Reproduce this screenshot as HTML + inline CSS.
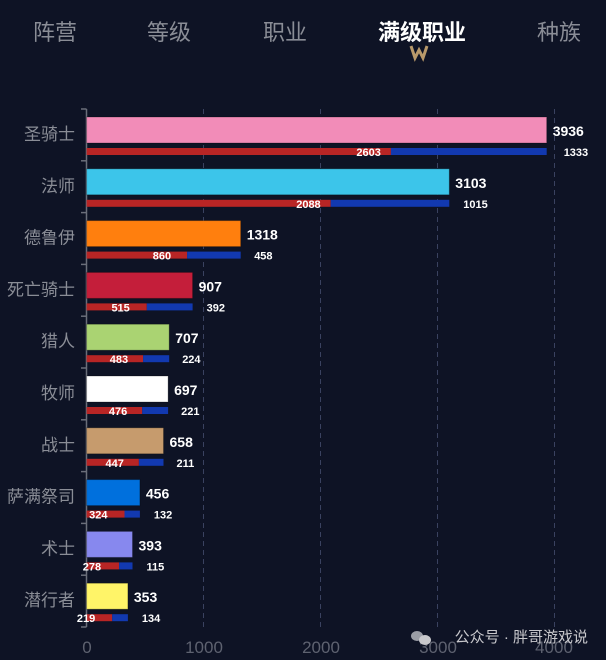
<!DOCTYPE html>
<html><head><meta charset="utf-8"><style>
html,body{margin:0;padding:0;background:#0e1325;}
svg{display:block;font-family:"Liberation Sans","Noto Sans CJK SC",sans-serif;}
</style></head><body>
<svg width="606" height="660" viewBox="0 0 606 660">
<rect width="606" height="660" fill="#0e1325"/>
<g font-size="22" fill="#8a8d96" text-anchor="middle">
<text x="55" y="40">阵营</text>
<text x="169" y="40">等级</text>
<text x="285" y="40">职业</text>
<text x="422" y="40" fill="#ffffff" font-weight="bold">满级职业</text>
<text x="559" y="40">种族</text>
</g>
<path d="M411 46 L415 58 L419 50 L423 58 L427 46" fill="none" stroke="#b8996a" stroke-width="3"/>
<g stroke="#3a4260" stroke-width="1" stroke-dasharray="5,4">
<line x1="203.5" y1="109" x2="203.5" y2="627"/>
<line x1="320.5" y1="109" x2="320.5" y2="627"/>
<line x1="437.5" y1="109" x2="437.5" y2="627"/>
<line x1="554.5" y1="109" x2="554.5" y2="627"/>
</g>
<g stroke="#6a6e7a" stroke-width="1.5">
<line x1="86.5" y1="109" x2="86.5" y2="627"/>
<line x1="81" y1="109" x2="86.5" y2="109"/><line x1="81" y1="160.8" x2="86.5" y2="160.8"/><line x1="81" y1="212.6" x2="86.5" y2="212.6"/><line x1="81" y1="264.4" x2="86.5" y2="264.4"/><line x1="81" y1="316.2" x2="86.5" y2="316.2"/><line x1="81" y1="368" x2="86.5" y2="368"/><line x1="81" y1="419.8" x2="86.5" y2="419.8"/><line x1="81" y1="471.6" x2="86.5" y2="471.6"/><line x1="81" y1="523.4" x2="86.5" y2="523.4"/><line x1="81" y1="575.2" x2="86.5" y2="575.2"/><line x1="81" y1="627" x2="86.5" y2="627"/>
</g>
<g font-size="17" fill="#5e6270" text-anchor="middle">
<text x="87" y="653">0</text><text x="204" y="653">1000</text><text x="321" y="653">2000</text><text x="438" y="653">3000</text><text x="554" y="653">4000</text>
</g>

<g font-size="17" fill="#8a8d96" text-anchor="end">
<text x="75" y="140">圣骑士</text>
<text x="75" y="191.8">法师</text>
<text x="75" y="243.6">德鲁伊</text>
<text x="75" y="295.4">死亡骑士</text>
<text x="75" y="347.2">猎人</text>
<text x="75" y="399">牧师</text>
<text x="75" y="450.8">战士</text>
<text x="75" y="502.6">萨满祭司</text>
<text x="75" y="554.4">术士</text>
<text x="75" y="606.2">潜行者</text>
</g>

<g stroke="rgba(0,0,0,0.25)">
<rect x="86.6" y="117" width="460.1" height="26" fill="#f28cb8"/>
<rect x="86.6" y="168.8" width="362.7" height="26" fill="#3cc5ea"/>
<rect x="86.6" y="220.6" width="154.1" height="26" fill="#ff7f0e"/>
<rect x="86.6" y="272.4" width="106" height="26" fill="#c41e3a"/>
<rect x="86.6" y="324.2" width="82.6" height="26" fill="#aad372"/>
<rect x="86.6" y="376" width="81.5" height="26" fill="#ffffff"/>
<rect x="86.6" y="427.8" width="76.9" height="26" fill="#c69b6d"/>
<rect x="86.6" y="479.6" width="53.3" height="26" fill="#0070dd"/>
<rect x="86.6" y="531.4" width="45.9" height="26" fill="#8788ee"/>
<rect x="86.6" y="583.2" width="41.3" height="26" fill="#fff468"/>
</g>

<g fill="#b82525">
<rect x="86.6" y="148" width="304.3" height="7"/>
<rect x="86.6" y="199.8" width="244.1" height="7"/>
<rect x="86.6" y="251.6" width="100.5" height="7"/>
<rect x="86.6" y="303.4" width="60.2" height="7"/>
<rect x="86.6" y="355.2" width="56.5" height="7"/>
<rect x="86.6" y="407" width="55.6" height="7"/>
<rect x="86.6" y="458.8" width="52.3" height="7"/>
<rect x="86.6" y="510.6" width="37.9" height="7"/>
<rect x="86.6" y="562.4" width="32.5" height="7"/>
<rect x="86.6" y="614.2" width="25.6" height="7"/>
</g>
<g fill="#1239b0">
<rect x="390.9" y="148" width="155.8" height="7"/>
<rect x="330.7" y="199.8" width="118.6" height="7"/>
<rect x="187.1" y="251.6" width="53.6" height="7"/>
<rect x="146.8" y="303.4" width="45.8" height="7"/>
<rect x="143.1" y="355.2" width="26.1" height="7"/>
<rect x="142.2" y="407" width="25.9" height="7"/>
<rect x="138.9" y="458.8" width="24.6" height="7"/>
<rect x="124.5" y="510.6" width="15.4" height="7"/>
<rect x="119.1" y="562.4" width="13.4" height="7"/>
<rect x="112.2" y="614.2" width="15.7" height="7"/>
</g>

<g font-size="14" font-weight="bold" fill="#fff">
<text x="552.7" y="136">3936</text>
<text x="455.3" y="187.8">3103</text>
<text x="246.7" y="239.6">1318</text>
<text x="198.6" y="291.4">907</text>
<text x="175.2" y="343.2">707</text>
<text x="174.1" y="395">697</text>
<text x="169.5" y="446.8">658</text>
<text x="145.9" y="498.6">456</text>
<text x="138.5" y="550.4">393</text>
<text x="133.9" y="602.2">353</text>
</g>
<g font-size="11" font-weight="bold" fill="#fff" text-anchor="end">
<text x="380.9" y="156">2603</text>
<text x="320.7" y="207.8">2088</text>
<text x="171.1" y="259.6">860</text>
<text x="129.8" y="311.4">515</text>
<text x="128.1" y="363.2">483</text>
<text x="127.2" y="415">476</text>
<text x="123.9" y="466.8">447</text>
<text x="107.5" y="518.6">324</text>
<text x="101.1" y="570.4">278</text>
<text x="95.2" y="622.2">219</text>
</g>
<g font-size="11" font-weight="bold" fill="#fff">
<text x="563.7" y="156">1333</text>
<text x="463.3" y="207.8">1015</text>
<text x="254.2" y="259.6">458</text>
<text x="206.6" y="311.4">392</text>
<text x="182.2" y="363.2">224</text>
<text x="181.1" y="415">221</text>
<text x="176.5" y="466.8">211</text>
<text x="153.9" y="518.6">132</text>
<text x="146.5" y="570.4">115</text>
<text x="141.9" y="622.2">134</text>
</g>

<text x="588" y="642" font-size="15" fill="#c8c8cc" text-anchor="end">公众号 · 胖哥游戏说</text>
<g fill="#9a9da6"><ellipse cx="417" cy="636" rx="6" ry="5"/><ellipse cx="425" cy="640" rx="6" ry="5" fill="#c8c8cc"/></g>
</svg>
</body></html>
